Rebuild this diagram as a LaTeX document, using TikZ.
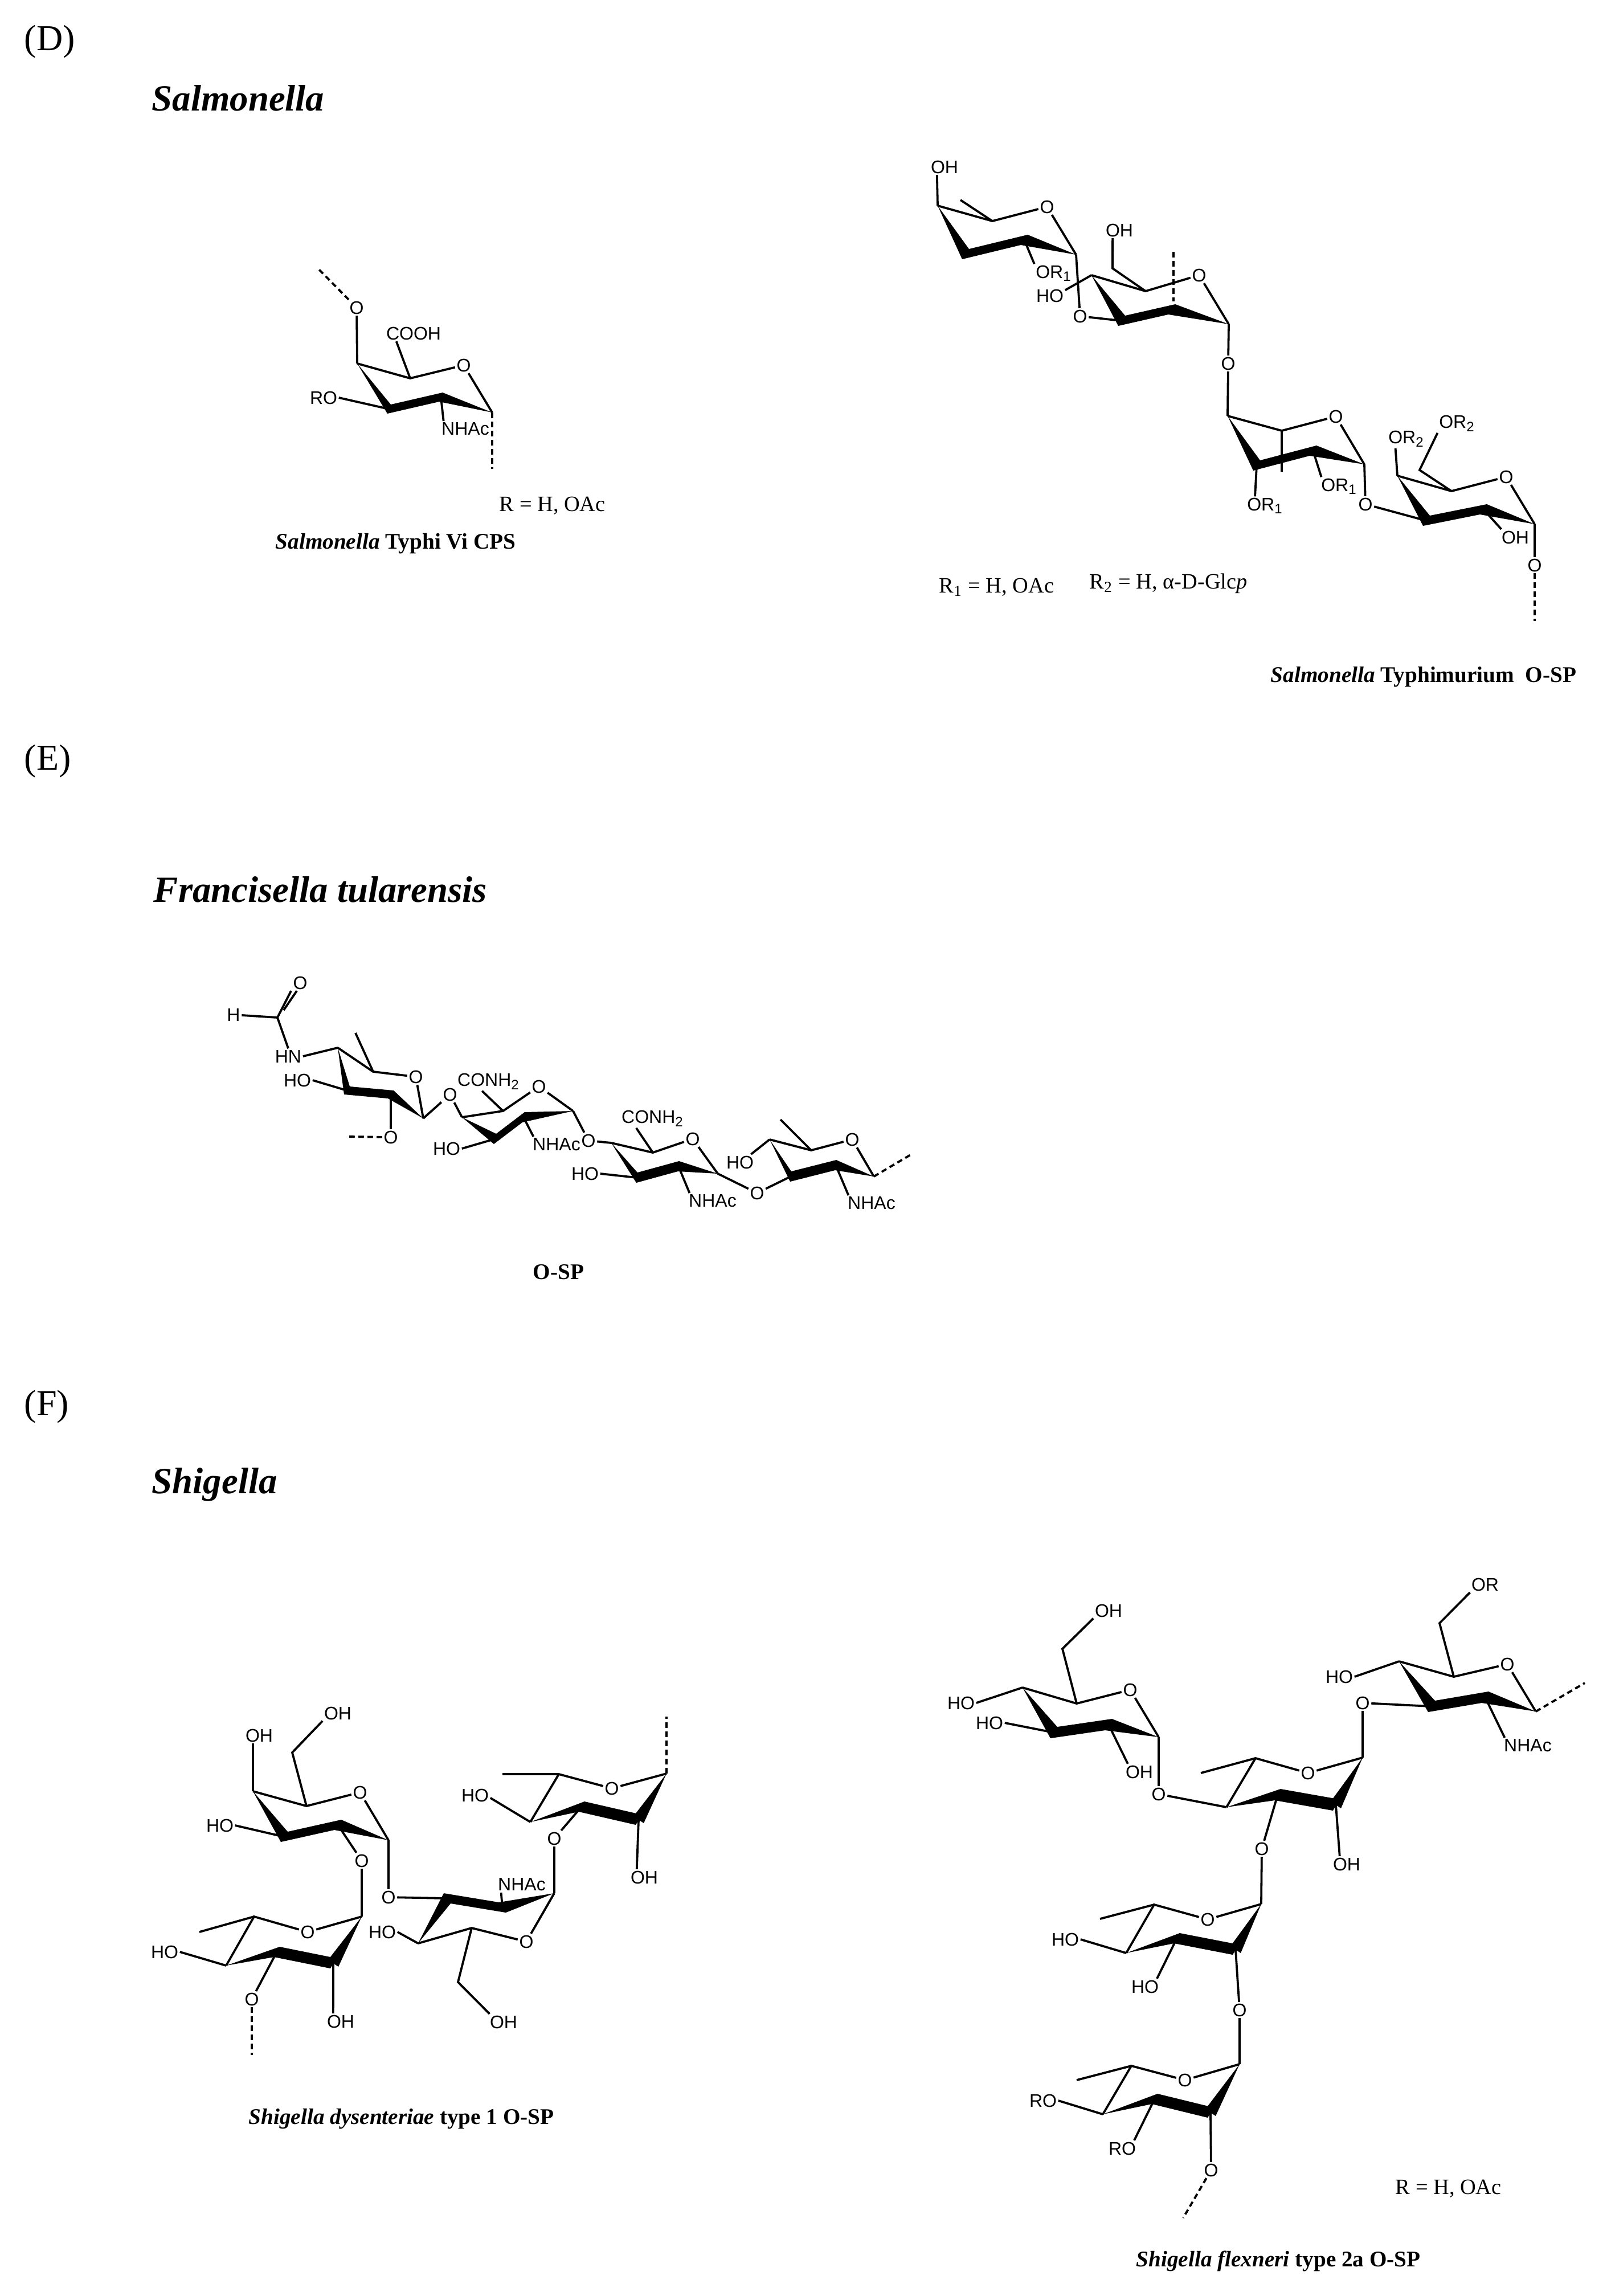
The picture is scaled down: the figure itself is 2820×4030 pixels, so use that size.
\documentclass[tikz,border=0pt]{standalone}
\usepackage{fontspec}
\setmainfont{Liberation Serif}
\newfontfamily\chemfont{Liberation Sans}
\usepackage{tikz}

\tikzset{
  bond/.style={line width=0.95pt},
  dashbond/.style={line width=0.95pt, dash pattern=on 2.4pt off 1.6pt},
  atom/.style={font=\chemfont\fontsize{8}{9.6}\selectfont, inner sep=0.5pt},
  panel/.style={font=\fontsize{16}{19}\selectfont, anchor=base west, inner sep=0pt},
  genus/.style={font=\fontsize{16.2}{19}\selectfont\bfseries\itshape, anchor=base west, inner sep=0pt},
  caption/.style={font=\fontsize{9.8}{11}\selectfont\bfseries, anchor=base west, inner sep=0pt},
  legend/.style={font=\fontsize{9.6}{11}\selectfont, anchor=base west, inner sep=0pt}
}

% Bold front of a ring
\newcommand{\ringband}[7]{
  \coordinate (#1c1) at (#2);
  \coordinate (#1c2) at (#3);
  \coordinate (#1c3) at (#4);
  \coordinate (#1c4) at (#5);
  \fill (#1c4) -- ([shift={(#6*-1,#7)}]#1c3) -- ([shift={(#6*-1,#7)}]#1c2) -- (#1c1)
    -- ([shift={(#6,#7*-1)}]#1c2) -- ([shift={(#6,#7*-1)}]#1c3) -- cycle;
}
% Ring with its O next to c1
\newcommand{\sugar}[9]{
  \ringband{#1}{#2}{#3}{#4}{#5}{#8}{#9}
  \coordinate (#1c5) at (#6);
  \node[atom] (#1o) at (#7) {O};
  \draw[bond] (#1c4) -- (#1c5) -- (#1o) -- (#1c1);
}
% Ring with its O next to c4
\newcommand{\sugarflip}[9]{
  \ringband{#1}{#2}{#3}{#4}{#5}{#8}{#9}
  \fill (#1c4) -- ([shift={(-9,-6)}]#1c3) -- ([shift={(9,6)}]#1c3) -- cycle;
  \coordinate (#1c5) at (#6);
  \node[atom] (#1o) at (#7) {O};
  \draw[bond] (#1c4) -- (#1o) -- (#1c5) -- (#1c1);
}

\begin{document}
\begin{tikzpicture}[x=0.25pt,y=-0.25pt]
\path[use as bounding box, fill=white] (0,0) rectangle (2820,4030);

% Headings
\node[panel] (headd) at (42,88) {(D)};
\node[genus] (gensal) at (266,194) {Salmonella};
\node[panel] (heade) at (42,1351) {(E)};
\node[genus] (genfra) at (269,1583) {Francisella tularensis};
\node[panel] (headf) at (42,2484) {(F)};
\node[genus] (genshi) at (266,2621) {Shigella};

% Typhi Vi
\sugar{vi}{864,724}{774,697}{683,718}{627,638}{720,664}{814,641}{3}{8}
\node[atom] (vioa) at (626,540) {O};
\node[atom] (vicooh) at (726,585) {COOH};
\node[atom] (viro) at (568,698) {RO};
\node[atom] (vinhac) at (817,753) {NHAc};
\coordinate (vitop) at (556,469);
\coordinate (vibot) at (864,823);
\draw[bond] (vic4) -- (vioa);
\draw[bond] (vic5) -- (vicooh.205);
\draw[bond] (vic3) -- (viro.east);
\draw[bond] (vic2) -- (vinhac.160);
\draw[dashbond] (vioa) -- (vitop);
\draw[dashbond] (vic1) -- (vibot);
\node[legend] (vilegend) at (876,897) {R = H, OAc};
\node[caption] (vicap) at (483,963) {\textit{Salmonella} Typhi Vi CPS};

% Typhimurium
\sugar{tma}{1889,447}{1798,421}{1695,446}{1646,361}{1742,388}{1838,363}{6}{9}
\sugar{tmb}{2157,569}{2057,543}{1969,563}{1916,483}{2011,511}{2105,483}{6}{9}
\sugar{tmc}{2395,815}{2305,791}{2206,817}{2155,730}{2250,756}{2345,731}{6}{9}
\sugar{tmd}{2694,920}{2604,894}{2504,914}{2453,835}{2548,862}{2644,837}{6}{9}
\coordinate (tmme) at (1686,351);
\draw[bond] (tmac5) -- (tmme);
\node[atom] (tmaoh) at (1658,293) {OH};
\draw[bond] (tmac4) -- (tmaoh.227);
\node[atom] (tmaor) at (1850,480) {OR\textsubscript{1}};
\draw[bond] (tmac2) -- (tmaor.154);
\node[atom] (tmoa) at (1896,555) {O};
\draw[bond] (tmac1) -- (tmoa) -- (tmbc3);
\node[atom] (tmbho) at (1843,519) {HO};
\draw[bond] (tmbc4) -- (tmbho.20);
\coordinate (tmbch) at (1953,471);
\node[atom] (tmboh) at (1965,404) {OH};
\draw[bond] (tmbc5) -- (tmbch) -- (tmboh.230);
\coordinate (tmbdt) at (2060,442);
\coordinate (tmbdb) at (2060,529);
\draw[dashbond] (tmbdt) -- (tmbdb);
\node[atom] (tmob) at (2156,638) {O};
\draw[bond] (tmbc1) -- (tmob) -- (tmcc4);
\coordinate (tmcst) at (2250,828);
\draw[bond] (tmcc5) -- (tmcst);
\node[atom] (tmcorl) at (2221,888) {OR\textsubscript{1}};
\draw[bond] (tmcc3) -- (tmcorl.137);
\node[atom] (tmcorr) at (2351,854) {OR\textsubscript{1}};
\draw[bond] (tmcc2) -- (tmcorr.152);
\node[atom] (tmoc) at (2397,885) {O};
\draw[bond] (tmcc1) -- (tmoc) -- (tmdc3);
\node[atom] (tmdorl) at (2469,770) {OR\textsubscript{2}};
\draw[bond] (tmdc4) -- (tmdorl.221);
\coordinate (tmdch) at (2492,825);
\node[atom] (tmdorr) at (2558,743) {OR\textsubscript{2}};
\draw[bond] (tmdc5) -- (tmdch) -- (tmdorr.206);
\node[atom] (tmdoh) at (2660,943) {OH};
\draw[bond] (tmdc2) -- (tmdoh.150);
\node[atom] (tmod) at (2694,992) {O};
\coordinate (tmbot) at (2694,1090);
\draw[bond] (tmdc1) -- (tmod);
\draw[dashbond] (tmod) -- (tmbot);
\node[legend] (tmlega) at (1648,1040) {R\textsubscript{1} = H, OAc};
\node[legend] (tmlegb) at (1912,1033) {R\textsubscript{2} = H, α-D-Glc\textit{p}};
\node[caption] (tmcap) at (2230,1197) {\textit{Salmonella} Typhimurium~~O-SP};

% Francisella
\coordinate (ftcho) at (487,1786);
\coordinate (ftchb) at (498,1773);
\node[atom] (ftoc) at (527,1725) {O};
\node[atom] (fth) at (410,1781) {H};
\node[atom] (fthn) at (506,1854) {HN};
\draw[bond] (ftcho) -- ([xshift=-4pt]ftoc.south);
\draw[bond] (ftchb) -- ([xshift=-1.5pt]ftoc.south);
\draw[bond] (fth) -- (ftcho);
\draw[bond] (ftcho) -- (fthn.north);
\sugar{fta}{743,1963}{686,1921}{609,1914}{593,1839}{655,1881}{730,1890}{5}{7}
\sugar{ftb}{1006,1950}{919,1961}{869,1999}{811,1961}{883,1950}{946,1907}{2}{9}
\sugar{ftc}{1260,2060}{1191,2047}{1118,2067}{1073,2006}{1146,2023}{1216,1999}{1}{9}
\sugar{ftd}{1534,2065}{1467,2045}{1388,2065}{1351,2000}{1424,2019}{1496,2000}{1}{9}
\draw[bond] (ftac4) -- (fthn.east);
\coordinate (ftame) at (624,1813);
\draw[bond] (ftac5) -- (ftame);
\node[atom] (ftaho) at (522,1896) {HO};
\draw[bond] (ftac3) -- (ftaho.east);
\node[atom] (ftoa) at (686,1996) {O};
\coordinate (ftaend) at (612,1995);
\draw[bond] (ftac2) -- (ftoa);
\draw[dashbond] (ftoa) -- (ftaend);
\node[atom] (ftob) at (790,1921) {O};
\draw[bond] (ftac1) -- (ftob) -- (ftbc4);
\node[atom] (ftbco) at (858,1898) {CONH\textsubscript{2}};
\draw[bond] (ftbc5) -- (ftbco.235);
\node[atom] (ftbnh) at (977,2009) {NHAc};
\draw[bond] (ftbc2) -- (ftbnh.161);
\node[atom] (ftbho) at (784,2016) {HO};
\draw[bond] (ftbc3) -- (ftbho.east);
\node[atom] (ftoe) at (1033,2002) {O};
\draw[bond] (ftbc1) -- (ftoe) -- (ftcc4);
\node[atom] (ftcco) at (1146,1963) {CONH\textsubscript{2}};
\draw[bond] (ftcc5) -- (ftcco.210);
\node[atom] (ftcnh) at (1251,2108) {NHAc};
\draw[bond] (ftcc2) -- (ftcnh.161);
\node[atom] (ftcho) at (1027,2060) {HO};
\draw[bond] (ftcc3) -- (ftcho.east);
\node[atom] (ftof) at (1329,2094) {O};
\draw[bond] (ftcc1) -- (ftof) -- (ftdc3);
\coordinate (ftdme) at (1370,1965);
\draw[bond] (ftdc5) -- (ftdme);
\node[atom] (ftdho) at (1299,2040) {HO};
\draw[bond] (ftdc4) -- (ftdho.36);
\node[atom] (ftdnh) at (1530,2112) {NHAc};
\draw[bond] (ftdc2) -- (ftdnh.161);
\coordinate (ftdend) at (1600,2026);
\draw[dashbond] (ftdc1) -- (ftdend);
\node[caption] (ftcap) at (935,2245) {O-SP};

% Dysenteriae
\sugar{sda}{682,3230}{593,3203}{499,3224}{444,3144}{538,3170}{632,3146}{6}{9}
\sugarflip{sdb}{397,3450}{486,3426}{585,3446}{635,3364}{446,3364}{540,3391}{5}{9}
\sugar{sdc}{973,3323}{882,3348}{785,3332}{734,3411}{828,3384}{924,3408}{-6}{9}
\sugarflip{sdd}{931,3198}{1021,3171}{1121,3194}{1170,3113}{981,3114}{1074,3139}{5}{9}
\coordinate (sdach) at (513,3076);
\node[atom] (sdaoh) at (593,3007) {OH};
\draw[bond] (sdac5) -- (sdach) -- (sdaoh.207);
\node[atom] (sdaoc) at (455,3046) {OH};
\draw[bond] (sdac4) -- (sdaoc.232);
\node[atom] (sdaho) at (386,3204) {HO};
\draw[bond] (sdac3) -- (sdaho.east);
\node[atom] (sdoa) at (635,3266) {O};
\draw[bond] (sdac2) -- (sdoa) -- (sdbc4);
\node[atom] (sdob) at (682,3330) {O};
\draw[bond] (sdac1) -- (sdob) -- (sdcc3);
\coordinate (sdbme) at (350,3391);
\draw[bond] (sdbc5) -- (sdbme);
\node[atom] (sdbho) at (289,3426) {HO};
\draw[bond] (sdbc1) -- (sdbho.east);
\node[atom] (sdboh) at (598,3548) {OH};
\draw[bond] (sdbc3) -- (sdboh.133);
\node[atom] (sdoc) at (442,3509) {O};
\coordinate (sdend) at (442,3607);
\draw[bond] (sdbc2) -- (sdoc);
\draw[dashbond] (sdoc) -- (sdend);
\node[atom] (sdcho) at (671,3391) {HO};
\draw[bond] (sdcc4) -- (sdcho.east);
\coordinate (sdcch) at (804,3479);
\node[atom] (sdcoh) at (884,3549) {OH};
\draw[bond] (sdcc5) -- (sdcch) -- (sdcoh.150);
\node[atom] (sdcnh) at (916,3308) {NHAc};
\draw[bond] (sdcc2) -- (sdcnh.201);
\node[atom] (sdod) at (973,3227) {O};
\draw[bond] (sdcc1) -- (sdod) -- (sddc2);
\coordinate (sddme) at (882,3114);
\draw[bond] (sddc5) -- (sddme);
\node[atom] (sddho) at (834,3151) {HO};
\draw[bond] (sddc1) -- (sddho.350);
\node[atom] (sddoh) at (1131,3295) {OH};
\draw[bond] (sddc3) -- (sddoh.133);
\coordinate (sddend) at (1170,3013);
\draw[dashbond] (sddc4) -- (sddend);
\node[caption] (sdcap) at (436,3728) {\textit{Shigella dysenteriae} type 1 O-SP};

% Flexneri
\sugar{sfa}{2034,3049}{1946,3027}{1850,3041}{1795,2962}{1890,2990}{1984,2966}{6}{10}
\sugarflip{sfb}{2153,3172}{2243,3150}{2345,3168}{2392,3085}{2204,3086}{2296,3112}{5}{10}
\sugar{sfe}{2696,3004}{2607,2979}{2513,2995}{2456,2916}{2552,2943}{2646,2921}{6}{10}
\sugarflip{sfc}{1977,3428}{2066,3402}{2169,3422}{2214,3342}{2026,3343}{2120,3369}{5}{9}
\sugarflip{sfd}{1936,3711}{2027,3684}{2125,3708}{2176,3623}{1986,3626}{2080,3651}{5}{9}
\coordinate (sfach) at (1865,2894);
\node[atom] (sfaoh) at (1946,2827) {OH};
\draw[bond] (sfac5) -- (sfach) -- (sfaoh.207);
\node[atom] (sfahoa) at (1687,2989) {HO};
\draw[bond] (sfac4) -- (sfahoa.east);
\node[atom] (sfahob) at (1737,3024) {HO};
\draw[bond] (sfac3) -- (sfahob.east);
\node[atom] (sfaoc) at (2000,3110) {OH};
\draw[bond] (sfac2) -- (sfaoc.145);
\node[atom] (sfoa) at (2034,3149) {O};
\draw[bond] (sfac1) -- (sfoa) -- (sfbc1);
\coordinate (sfbme) at (2108,3112);
\draw[bond] (sfbc5) -- (sfbme);
\node[atom] (sfob) at (2215,3245) {O};
\draw[bond] (sfbc2) -- (sfob) -- (sfcc4);
\node[atom] (sfboh) at (2364,3272) {OH};
\draw[bond] (sfbc3) -- (sfboh.131);
\node[atom] (sfoc) at (2392,2989) {O};
\draw[bond] (sfbc4) -- (sfoc) -- (sfec3);
\coordinate (sfech) at (2527,2849);
\node[atom] (sfeor) at (2607,2781) {OR};
\draw[bond] (sfec5) -- (sfech) -- (sfeor.208);
\node[atom] (sfeho) at (2351,2943) {HO};
\draw[bond] (sfec4) -- (sfeho.east);
\node[atom] (sfenh) at (2682,3064) {NHAc};
\draw[bond] (sfec2) -- (sfenh.161);
\coordinate (sfeend) at (2782,2954);
\draw[dashbond] (sfec1) -- (sfeend);
\coordinate (sfcme) at (1931,3368);
\draw[bond] (sfcc5) -- (sfcme);
\node[atom] (sfchoa) at (1870,3404) {HO};
\draw[bond] (sfcc1) -- (sfchoa.east);
\node[atom] (sfchob) at (2010,3487) {HO};
\draw[bond] (sfcc2) -- (sfchob.34);
\node[atom] (sfod) at (2176,3528) {O};
\draw[bond] (sfcc3) -- (sfod) -- (sfdc4);
\coordinate (sfdme) at (1890,3651);
\draw[bond] (sfdc5) -- (sfdme);
\node[atom] (sfdroa) at (1831,3687) {RO};
\draw[bond] (sfdc1) -- (sfdroa.east);
\node[atom] (sfdrob) at (1970,3771) {RO};
\draw[bond] (sfdc2) -- (sfdrob.34);
\node[atom] (sfoe) at (2126,3809) {O};
\coordinate (sfend) at (2077,3893);
\draw[bond] (sfdc3) -- (sfoe);
\draw[dashbond] (sfoe) -- (sfend);
\node[legend] (sflegend) at (2449,3851) {R = H, OAc};
\node[caption] (sfcap) at (1994,3978) {\textit{Shigella flexneri} type 2a O-SP};
\end{tikzpicture}
\end{document}
